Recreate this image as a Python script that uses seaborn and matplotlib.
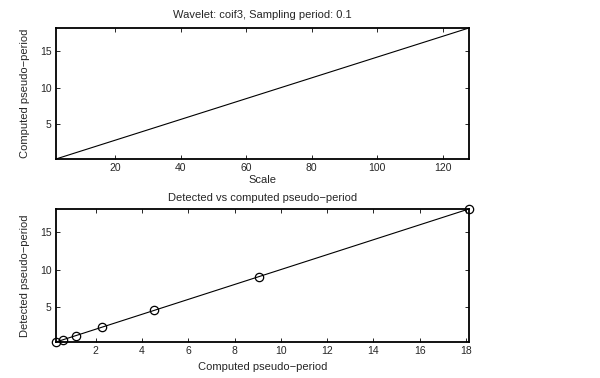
import matplotlib
matplotlib.use("Agg")
import matplotlib.pyplot as plt
import seaborn as sns
import pandas as pd

scales = [2, 4, 8, 16, 32, 64, 128]
computed_period = [0.2833, 0.5667, 1.1333, 2.2667, 4.5333, 9.0667, 18.1333]
detected_period = [0.2833, 0.5667, 1.1333, 2.2667, 4.5333, 9.0667, 18.1333]
top_xticks = [20, 40, 60, 80, 100, 120]
top_yticks = [5, 10, 15]
bot_xticks = [2, 4, 6, 8, 10, 12, 14, 16, 18]
bot_yticks = [5, 10, 15]

sns.set_style("white")
plt.rcParams['font.family'] = ['Liberation Sans', 'DejaVu Sans']
fs = 7.5
fl = 8

df1 = pd.DataFrame({"scale": scales, "per": computed_period})
df2 = pd.DataFrame({"comp": computed_period, "det": detected_period})

fig = plt.figure(figsize=(6, 3.78), dpi=100)
ax1 = fig.add_axes([0.0933, 0.5794, 0.6883, 0.3466])
ax2 = fig.add_axes([0.0933, 0.0952, 0.6883, 0.3520])

sns.lineplot(data=df1, x="scale", y="per", ax=ax1, color="black", linewidth=0.8, sort=False)
ax1.set_xlim(min(scales), max(scales))
ax1.set_ylim(min(computed_period), max(computed_period))
ax1.set_xticks(top_xticks)
ax1.set_yticks(top_yticks)
ax1.set_title("Wavelet: coif3, Sampling period: 0.1", fontsize=fl, pad=7)
ax1.set_xlabel("Scale", fontsize=fl, labelpad=1)
ax1.set_ylabel("Computed pseudo\u2212period", fontsize=fl, labelpad=7)

sns.lineplot(data=df2, x="comp", y="det", ax=ax2, color="black", linewidth=0.8, sort=False,
             marker="o", markersize=6, markerfacecolor="none", markeredgecolor="black",
             markeredgewidth=0.9)
ax2.set_xlim(min(computed_period), max(computed_period))
ax2.set_ylim(min(detected_period), max(detected_period))
ax2.set_xticks(bot_xticks)
ax2.set_yticks(bot_yticks)
ax2.set_title("Detected vs computed pseudo\u2212period", fontsize=fl, pad=6)
ax2.set_xlabel("Computed pseudo\u2212period", fontsize=fl, labelpad=4)
ax2.set_ylabel("Detected pseudo\u2212period", fontsize=fl, labelpad=7)

for ax in (ax1, ax2):
    for s in ax.spines.values():
        s.set_visible(True)
        s.set_linewidth(1.3)
        s.set_color("black")
    ax.tick_params(direction="in", length=3, width=0.7, labelsize=fs,
                   top=True, right=True, bottom=True, left=True, pad=3)
    for c in ax.lines:
        c.set_clip_on(False)

fig.savefig("out.png", dpi=100)
